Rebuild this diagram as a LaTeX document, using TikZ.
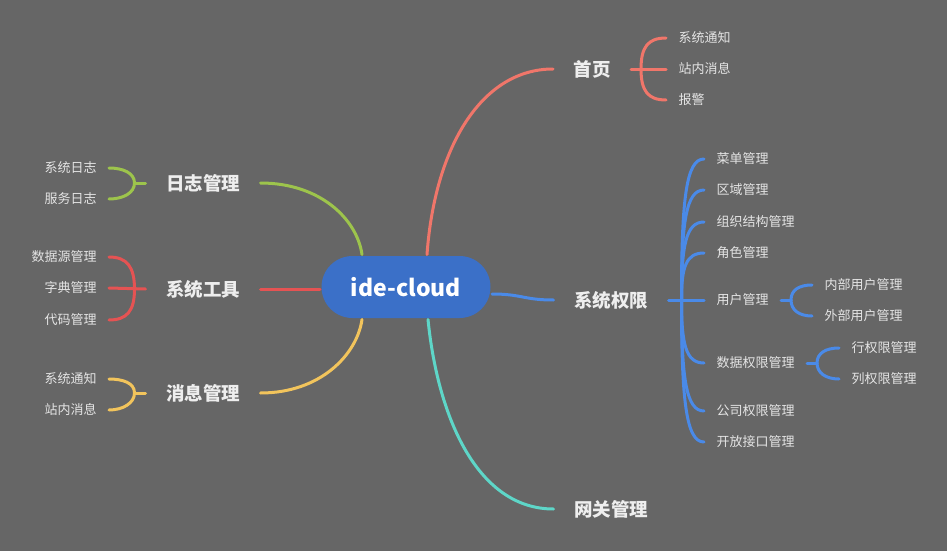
\documentclass[tikz,border=0pt]{standalone}
\usepackage{fontspec}
\setmainfont{Noto Sans CJK SC}
\definecolor{bggray}{RGB}{102,102,102}
\definecolor{rootblue}{RGB}{59,112,200}
\definecolor{homered}{RGB}{240,118,106}
\definecolor{permblue}{RGB}{74,138,232}
\definecolor{gateteal}{RGB}{94,214,200}
\definecolor{loggreen}{RGB}{157,196,76}
\definecolor{toolred}{RGB}{229,83,83}
\definecolor{msgyellow}{RGB}{242,196,92}
\definecolor{topictext}{RGB}{238,238,238}
\definecolor{leaftext}{RGB}{228,228,228}

\begin{document}
\begin{tikzpicture}[x=1pt, y=-1pt, line width=3pt, line cap=round,
  topic/.style={font=\bfseries\fontsize{18.5}{22}\selectfont, text=topictext, inner xsep=19pt, inner ysep=2pt},
  leaf/.style={font=\fontsize{13}{16}\selectfont, text=leaftext, inner xsep=11pt, inner ysep=1pt}]

  %% ==== background ====
  \fill[bggray] (0,0) rectangle (947,551);

  %% ==== centre ====
  \node[fill=rootblue, rounded corners=31pt, minimum width=169pt, minimum height=62pt, inner sep=0pt,
        text=white, font=\bfseries\fontsize{23}{28}\selectfont] (root) at (406,287) {ide-cloud};

  %% ==== topics ====
  \node[topic] (home) at (592,69)  {首页};
  \node[topic] (perm) at (611,300) {系统权限};
  \node[topic] (gate) at (611,509) {网关管理};
  \node[topic] (log)  at (203,183) {日志管理};
  \node[topic] (tool) at (203,289) {系统工具};
  \node[topic] (msg)  at (203,393) {消息管理};

  %% ==== leaves ====
  \node[leaf, anchor=west] (homenote) at (666,38)  {系统通知};
  \node[leaf, anchor=west] (homemsg)  at (666,69)  {站内消息};
  \node[leaf, anchor=west] (homewarn) at (666,100) {报警};

  \node[leaf, anchor=west] (menu) at (704,159) {菜单管理};
  \node[leaf, anchor=west] (area) at (704,190) {区域管理};
  \node[leaf, anchor=west] (org)  at (704,222) {组织结构管理};
  \node[leaf, anchor=west] (role) at (704,253) {角色管理};
  \node[leaf, anchor=west] (user) at (704,300) {用户管理};
  \node[leaf, anchor=west] (data) at (704,363) {数据权限管理};
  \node[leaf, anchor=west] (corp) at (704,411) {公司权限管理};
  \node[leaf, anchor=west] (open) at (704,442) {开放接口管理};

  \node[leaf, anchor=west] (userin)  at (812,285) {内部用户管理};
  \node[leaf, anchor=west] (userout) at (812,316) {外部用户管理};
  \node[leaf, anchor=west] (datarow) at (839,348) {行权限管理};
  \node[leaf, anchor=west] (datacol) at (839,379) {列权限管理};

  \node[leaf, anchor=east] (logsys) at (109,168) {系统日志};
  \node[leaf, anchor=east] (logsrv) at (109,199) {服务日志};
  \node[leaf, anchor=east] (tooldb)   at (109,257) {数据源管理};
  \node[leaf, anchor=east] (tooldict) at (109,288) {字典管理};
  \node[leaf, anchor=east] (toolcode) at (109,320) {代码管理};
  \node[leaf, anchor=east] (msgnote) at (109,379) {系统通知};
  \node[leaf, anchor=east] (msgin)   at (109,410) {站内消息};

  %% ==== main branches ====
  \draw[homered]   ([xshift=21pt]root.north) .. controls +(8,-110) and +(-70,0) .. (home.west);
  \draw[permblue]  ([yshift=-7pt]root.east) .. controls +(30,0) and +(-30,0) .. (perm.west);
  \draw[gateteal]  ([xshift=22pt]root.south) .. controls +(10,100) and +(-75,0) .. (gate.west);
  \draw[loggreen]  (log.east) .. controls +(60,0) and +(-5,-35) .. ([xshift=-44pt]root.north);
  \draw[toolred]   (tool.east) -- (root.west |- tool.east);
  \draw[msgyellow] (msg.east) .. controls +(60,0) and +(-5,35) .. ([xshift=-44pt]root.south);

  %% ==== brackets ====
  % 首页
  \coordinate (homehub) at ([xshift=10pt]home.east);
  \draw[homered] (home.east) -- (homemsg.west);
  \draw[homered] (homehub) .. controls +(0,-22) and +(-18,0) .. (homenote.west);
  \draw[homered] (homehub) .. controls +(0,22) and +(-18,0) .. (homewarn.west);

  % 系统权限
  \coordinate (permhub) at ([xshift=13pt]perm.east);
  \draw[permblue] (perm.east) -- (user.west);
  \foreach \c/\d in {menu/-100, area/-78, org/-55, role/-33, data/45, corp/78, open/100}
    \draw[permblue] (permhub) .. controls +(0,\d) and +(-18,0) .. (\c.west);

  \coordinate (userhub) at ([xshift=10pt]user.east);
  \draw[permblue] (user.east) -- (userhub);
  \draw[permblue] (userhub) .. controls +(0,-10) and +(-13,0) .. (userin.west);
  \draw[permblue] (userhub) .. controls +(0,10) and +(-13,0) .. (userout.west);

  \coordinate (datahub) at ([xshift=10pt]data.east);
  \draw[permblue] (data.east) -- (datahub);
  \draw[permblue] (datahub) .. controls +(0,-10) and +(-13,0) .. (datarow.west);
  \draw[permblue] (datahub) .. controls +(0,10) and +(-13,0) .. (datacol.west);

  % 日志管理
  \coordinate (loghub) at ([xshift=-11pt]log.west);
  \draw[loggreen] (log.west) -- (loghub);
  \draw[loggreen] (loghub) .. controls +(0,-10) and +(14,0) .. (logsys.east);
  \draw[loggreen] (loghub) .. controls +(0,10) and +(14,0) .. (logsrv.east);

  % 系统工具
  \coordinate (toolhub) at ([xshift=-11pt]tool.west);
  \draw[toolred] (tool.west) -- (tooldict.east);
  \draw[toolred] (toolhub) .. controls +(0,-22) and +(18,0) .. (tooldb.east);
  \draw[toolred] (toolhub) .. controls +(0,22) and +(18,0) .. (toolcode.east);

  % 消息管理
  \coordinate (msghub) at ([xshift=-11pt]msg.west);
  \draw[msgyellow] (msg.west) -- (msghub);
  \draw[msgyellow] (msghub) .. controls +(0,-10) and +(14,0) .. (msgnote.east);
  \draw[msgyellow] (msghub) .. controls +(0,10) and +(14,0) .. (msgin.east);

  \pgfresetboundingbox
  \path[use as bounding box] (0,0) rectangle (947,551);
\end{tikzpicture}
\end{document}
